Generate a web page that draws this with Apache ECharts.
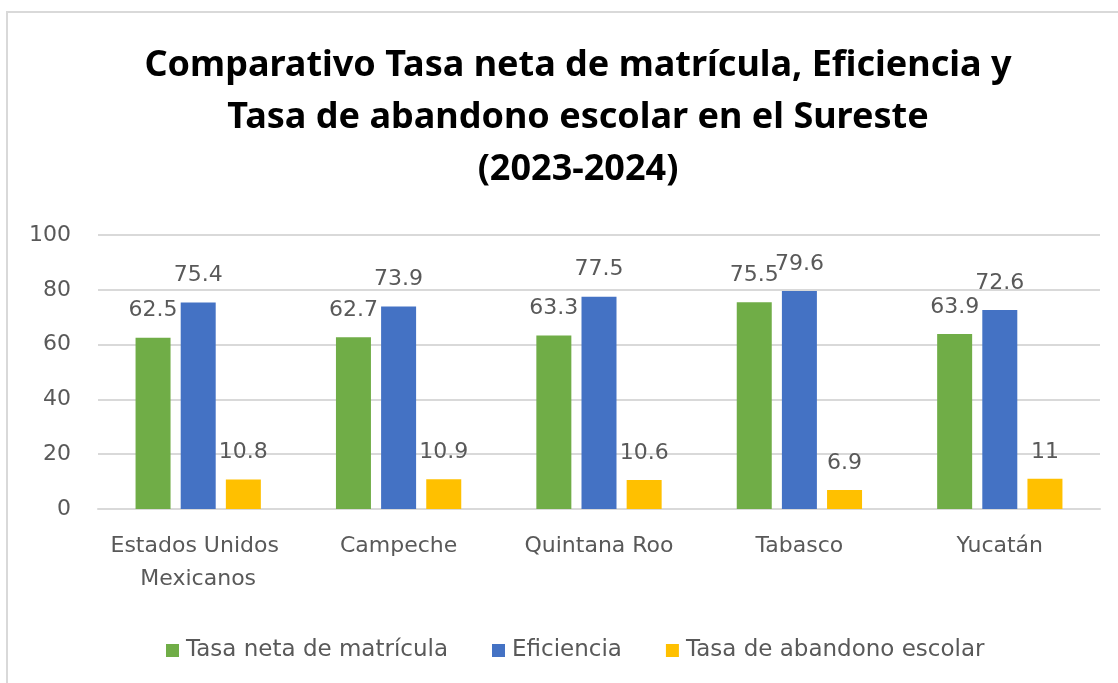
<!DOCTYPE html>
<html>
<head>
<meta charset="utf-8">
<script src="https://cdn.jsdelivr.net/npm/echarts@6/dist/echarts.min.js"></script>
<style>
  html, body { margin: 0; padding: 0; background: #fff; }
  #chart { width: 1118px; height: 683px; }
</style>
</head>
<body>
<div id="chart"></div>
<script>
// datos
const categories = ['Estados Unidos Mexicanos', 'Campeche', 'Quintana Roo', 'Tabasco', 'Yucatán'];
const seriesNames = ['Tasa neta de matrícula', 'Eficiencia', 'Tasa de abandono escolar'];
const matricula = [62.5, 62.7, 63.3, 75.5, 63.9];
const eficiencia = [75.4, 73.9, 77.5, 79.6, 72.6];
const abandono = [10.8, 10.9, 10.6, 6.9, 11];
const yTicks = [0, 20, 40, 60, 80, 100];

const FONT = '"DejaVu Sans", sans-serif';
const TITLE_FONT = '"Noto Sans", sans-serif';
const GRAY = '#595959';
const colors = ['#70ad47', '#4472c4', '#ffc000'];

const chart = echarts.init(document.getElementById('chart'));

function barSeries(name, values, color) {
    return {
        name: name,
        type: 'bar',
        data: values,
        barWidth: 35,
        barGap: '29%',
        itemStyle: { color: color },
        label: {
            show: true,
            position: 'top',
            distance: 16,
            color: GRAY,
            fontFamily: FONT,
            fontSize: 22
        }
    };
}

const option = {
    animation: false,
    backgroundColor: '#fff',
    graphic: [{
        type: 'rect',
        shape: { x: 7, y: 12, width: 1200, height: 720 },
        style: { fill: 'none', stroke: '#d9d9d9', lineWidth: 2 },
        silent: true
    }],
    title: {
        text: 'Comparativo Tasa neta de matrícula, Eficiencia y\nTasa de abandono escolar en el Sureste\n(2023-2024)',
        left: 573,
        top: 35,
        textAlign: 'center',
        textStyle: {
            fontFamily: TITLE_FONT,
            fontWeight: 'bold',
            fontSize: 36,
            lineHeight: 52,
            color: '#000'
        }
    },
    legend: {
        data: seriesNames,
        left: 161,
        top: 634,
        icon: 'rect',
        itemWidth: 13,
        itemHeight: 13,
        itemGap: 44,
        textStyle: { color: GRAY, fontFamily: FONT, fontSize: 23, padding: [0, 0, 0, 2] }
    },
    grid: { left: 98, right: 18, top: 235, bottom: 174 },
    xAxis: {
        type: 'category',
        data: categories,
        axisLine: { lineStyle: { color: '#d9d9d9', width: 2 } },
        axisTick: { show: false },
        axisLabel: {
            color: GRAY,
            fontFamily: FONT,
            fontSize: 22,
            lineHeight: 33,
            margin: 21,
            width: 198,
            overflow: 'break',
            interval: 0
        }
    },
    yAxis: {
        type: 'value',
        min: yTicks[0],
        max: yTicks[yTicks.length - 1],
        interval: yTicks[1] - yTicks[0],
        axisLine: { show: false },
        axisTick: { show: false },
        splitLine: { lineStyle: { color: '#d9d9d9', width: 2 } },
        axisLabel: {
            color: GRAY,
            fontFamily: FONT,
            fontSize: 22,
            margin: 27
        }
    },
    series: [
        barSeries(seriesNames[0], matricula, colors[0]),
        barSeries(seriesNames[1], eficiencia, colors[1]),
        barSeries(seriesNames[2], abandono, colors[2])
    ]
};

chart.setOption(option);
window.onresize = () => chart.resize();
</script>
</body>
</html>
